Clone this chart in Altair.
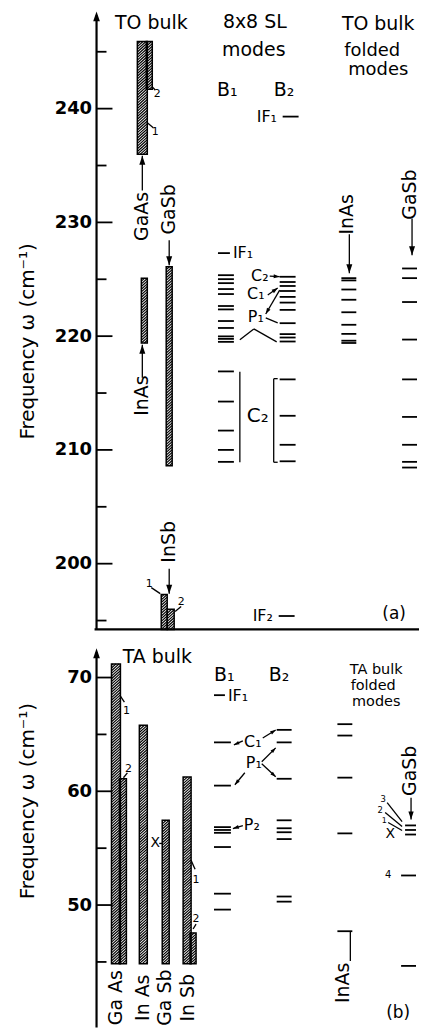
import math
import altair as alt
import pandas as pd

# ---------------- values (cm^-1) ----------------
TO_MAJOR_TICKS = [200, 210, 220, 230, 240]
TO_MINOR_TICKS = [195, 205, 215, 225, 235, 245]
TA_MAJOR_TICKS = [50, 60, 70]
TA_MINOR_TICKS = [45, 55, 65]

BULK_BARS = ["GaAs 1", "GaAs 2", "InAs", "GaSb", "InSb 1", "InSb 2"]
TO_BULK_LOW = [236.0, 241.7, 219.4, 208.6, 194.22, 194.22]
TO_BULK_HIGH = [245.9, 245.9, 225.1, 226.1, 197.3, 196.0]
TA_BULK_LOW = [44.85, 44.85, 44.85, 44.85, 44.85, 44.85]
TA_BULK_HIGH = [71.2, 61.1, 65.8, 57.45, 61.25, 47.55]

TO_SL_B1 = [225.36, 225.01, 224.66, 224.14, 223.7, 222.65, 222.35, 221.33, 220.72,
            219.98, 219.76, 219.5, 216.9, 214.25, 211.7, 210.0, 208.95]
TO_SL_B2 = [225.22, 224.76, 224.41, 223.97, 223.45, 222.95, 222.31, 221.14, 220.18,
            219.88, 219.53, 216.2, 213.0, 210.45, 209.0]
TO_IF1_B1 = [227.3]
TO_IF1_B2 = [239.3]
TO_IF2_B2 = [195.4]
TO_FOLDED_INAS = [225.1, 224.9, 224.1, 223.2, 222.1, 221.0, 220.2, 219.6, 219.4]
TO_FOLDED_GASB = [225.95, 225.1, 223.0, 219.7, 216.2, 212.9, 210.45, 208.95, 208.45]

TA_SL_B1 = [64.3, 60.5, 56.85, 56.6, 56.35, 55.1, 51.0, 49.6]
TA_SL_B2 = [65.4, 64.3, 61.1, 57.45, 56.75, 56.4, 55.8, 50.75, 50.3]
TA_IF1_B1 = [68.45]
TA_FOLDED_INAS = [65.9, 64.9, 61.2, 56.3, 47.7]
TA_FOLDED_GASB_TRIPLET = [57.0, 56.6, 56.2]
TA_FOLDED_GASB = [52.6, 44.65]

# ---------------- layout (pixels) ----------------
W = 421
AXIS_X = 97
FONT = "DejaVu Sans"
PANELS = {
    "a": {"top": 0, "height": 630, "ref_v": 240.0, "ref_px": 106.7, "k": 11.43},
    "b": {"top": 648, "height": 382, "ref_v": 70.0, "ref_px": 678.3, "k": 11.43},
}
TO_BAR_X = [(138, 148), (147, 153), (142, 148), (167, 173), (162, 168), (168, 175)]
TA_BAR_X = [(112, 121), (120, 127), (140, 148), (163, 170), (184, 192), (191, 197)]
COLS = {
    "TO_B1": (219, 235), "TO_B2": (281, 297), "TO_FINAS": (343, 358), "TO_FGASB": (404, 419),
    "TO_IF1_B1": (219, 231), "TO_IF1_B2": (284, 300), "TO_IF2": (280, 296),
    "TA_B1": (215, 232), "TA_B2": (278, 293), "TA_FINAS": (339, 354),
    "TA_FGASB": (403, 418), "TA_FGASB3": (407, 418), "TA_IF1_B1": (215, 226),
}
HATCH_STEP_PX = 2.7
ARROW_PATH = "M0,-1L0.67,1L-0.67,1Z"
TITLE = "Frequency  ω  (cm⁻¹)"


def v_of(p, Y):
    P = PANELS[p]
    return P["ref_v"] - (Y - P["ref_px"]) / P["k"]


def yscale(p):
    P = PANELS[p]
    return alt.Scale(domain=[v_of(p, P["top"] + P["height"]), v_of(p, P["top"])],
                     nice=False, zero=False)


def yaxis(p, major, title_y):
    return alt.Axis(values=major, format="d", domain=False, ticks=False, tickSize=0,
                    grid=False, labelPadding=5, labelFont=FONT, labelFontSize=18,
                    labelFontWeight="bold", labelColor="black", labelFlush=False,
                    labelOverlap=False, title=TITLE, titleFont=FONT, titleFontSize=20,
                    titleFontWeight="normal", titleColor="black",
                    titleX=28 - AXIS_X, titleY=title_y, titleAngle=270,
                    titleAlign="center", titleBaseline="middle")


XS = alt.Scale(domain=[AXIS_X, W], nice=False, zero=False)


def X(f):
    return alt.X(f, type="quantitative", scale=XS, axis=None)


def build_panel(p, bar_low, bar_high, bar_x, modes, major, minor, texts, arrows, title_y):
    P = PANELS[p]
    K = P["k"]
    AX = yaxis(p, major, title_y)

    def Y(f):
        return alt.Y(f, type="quantitative", scale=yscale(p), axis=AX)

    layers = []

    # left anchor so the whole window width is used (white, invisible)
    layers.append(alt.Chart(pd.DataFrame({"v": [v_of(p, P["top"] + 1)]}))
                  .mark_rule(color="white", strokeWidth=1)
                  .encode(x=alt.value(-AXIS_X + 0.5), y=Y("v"), y2=alt.value(2)))

    # bulk bars (white body, hatching, outline)
    bars = pd.DataFrame({"name": BULK_BARS, "lo": bar_low, "hi": bar_high,
                         "x0": [b[0] for b in bar_x], "x1": [b[1] for b in bar_x]})
    layers.append(alt.Chart(bars).mark_rect(fill="white", strokeWidth=0).encode(
        x=X("x0"), x2="x1", y=Y("lo"), y2="hi"))
    step = HATCH_STEP_PX / K
    hatch = (alt.Chart(bars)
             .transform_calculate(w="datum.x1 - datum.x0")
             .transform_calculate(rise=f"datum.w * 0.9 / {K}")
             .transform_calculate(
                 idx=f"sequence(ceil(-datum.rise / {step}), floor((datum.hi - datum.lo) / {step}) + 1)")
             .transform_flatten(["idx"])
             .transform_calculate(a=f"datum.lo + datum.idx * {step}")
             .transform_calculate(tmin="max(0, (datum.lo - datum.a) / datum.rise)",
                                  tmax="min(1, (datum.hi - datum.a) / datum.rise)")
             .transform_filter("datum.tmax > datum.tmin")
             .transform_calculate(xa="datum.x0 + datum.tmin * datum.w",
                                  xb="datum.x0 + datum.tmax * datum.w",
                                  ya="datum.a + datum.tmin * datum.rise",
                                  yb="datum.a + datum.tmax * datum.rise")
             .mark_rule(color="black", strokeWidth=1.2)
             .encode(x=X("xa"), x2="xb", y=Y("ya"), y2="yb"))
    layers.append(hatch)
    layers.append(alt.Chart(bars).mark_rect(fillOpacity=0, stroke="black", strokeWidth=1.5).encode(
        x=X("x0"), x2="x1", y=Y("lo"), y2="hi"))

    # mode lines
    rows = []
    for values, col in modes:
        x0, x1 = COLS[col]
        rows += [{"x0": x0, "x1": x1, "v": v} for v in values]
    layers.append(alt.Chart(pd.DataFrame(rows)).mark_rule(color="black", strokeWidth=1.8).encode(
        x=X("x0"), x2="x1", y=Y("v")))

    # axis line with arrow, and inward ticks
    P_bottom = v_of(p, P["top"] + P["height"])
    tip_px = P["top"] + (9 if p == "a" else 1)
    layers.append(alt.Chart(pd.DataFrame({"x0": [AXIS_X], "lo": [P_bottom], "hi": [v_of(p, tip_px + 4)]}))
                  .mark_rule(color="black", strokeWidth=2.2)
                  .encode(x=X("x0"), y=Y("lo"), y2="hi"))
    layers.append(alt.Chart(pd.DataFrame({"x0": [AXIS_X], "v": [v_of(p, tip_px + 5)]}))
                  .mark_point(shape=ARROW_PATH, filled=True, color="black", size=100, opacity=1)
                  .encode(x=X("x0"), y=Y("v")))
    tick_df = pd.DataFrame(
        [{"x0": AXIS_X, "x1": AXIS_X + 16, "v": t} for t in major] +
        [{"x0": AXIS_X, "x1": AXIS_X + 10, "v": t} for t in minor])
    layers.append(alt.Chart(tick_df).mark_rule(color="black", strokeWidth=1.8).encode(
        x=X("x0"), x2="x1", y=Y("v")))

    # annotation segments and arrowheads
    seg, heads = [], []
    for (x1, y1, x2, y2, head, hs) in arrows:
        seg.append({"xa": x1, "xb": x2, "ya": v_of(p, y1), "yb": v_of(p, y2)})
        if head:
            dx, dy = x2 - x1, y2 - y1
            L = math.hypot(dx, dy)
            ux, uy = dx / L, dy / L
            r = math.sqrt(hs) / 2
            ang = math.degrees(math.atan2(dx, -dy)) % 360
            heads.append({"x0": x2 - ux * r, "v": v_of(p, y2 - uy * r), "ang": ang, "s": hs})
    layers.append(alt.Chart(pd.DataFrame(seg)).mark_rule(color="black", strokeWidth=1.3).encode(
        x=X("xa"), x2="xb", y=Y("ya"), y2="yb"))
    if heads:
        layers.append(alt.Chart(pd.DataFrame(heads))
                      .mark_point(shape=ARROW_PATH, filled=True, color="black", opacity=1)
                      .encode(x=X("x0"), y=Y("v"),
                              angle=alt.Angle("ang:Q", scale=None),
                              size=alt.Size("s:Q", scale=None, legend=None)))

    # texts
    tdf = pd.DataFrame([{"t": t, "x0": x, "v": v_of(p, yy), "size": s, "angle": a, "align": al}
                        for (t, x, yy, s, a, al) in texts])
    for al in ["left", "center"]:
        sub = tdf[tdf["align"] == al]
        if len(sub):
            layers.append(alt.Chart(sub).mark_text(font=FONT, align=al, baseline="middle",
                                                   color="black")
                          .encode(x=X("x0"), y=Y("v"), text="t:N",
                                  size=alt.Size("size:Q", scale=None, legend=None),
                                  angle=alt.Angle("angle:Q", scale=None)))

    if p == "a":
        layers.append(alt.Chart(pd.DataFrame({"x0": [95], "x1": [W], "v": [P_bottom]}))
                      .mark_rule(color="black", strokeWidth=2.2)
                      .encode(x=X("x0"), x2="x1", y=Y("v")))

    return alt.layer(*layers).properties(width=W - AXIS_X, height=P["height"])


# ---------------- panel (a): TO ----------------
texts_a = [
    ("TO bulk", 152, 21, 19, 0, "center"),
    ("8x8  SL", 256, 20, 19, 0, "center"),
    ("modes", 255, 48, 19, 0, "center"),
    ("TO bulk", 380, 22, 19, 0, "center"),
    ("folded", 374, 49, 18, 0, "center"),
    ("modes", 380, 68, 18, 0, "center"),
    ("B₁", 218, 88, 19, 0, "left"),
    ("B₂", 275, 88, 19, 0, "left"),
    ("IF₁", 258, 115, 16, 0, "left"),
    ("IF₁", 234, 252, 16, 0, "left"),
    ("C₂", 261, 275, 16, 0, "center"),
    ("C₁", 257, 293, 16, 0, "center"),
    ("P₁", 257, 316, 16, 0, "center"),
    ("C₂", 259, 416, 20, 0, "center"),
    ("IF₂", 264, 616, 16, 0, "center"),
    ("(a)", 396, 614, 17, 0, "center"),
    ("GaAs", 143, 215, 19, 270, "center"),
    ("GaSb", 170, 208, 19, 270, "center"),
    ("InAs", 143, 395, 19, 270, "center"),
    ("InSb", 170, 542, 19, 270, "center"),
    ("InAs", 349, 213, 19, 270, "center"),
    ("GaSb", 412, 193, 19, 270, "center"),
    ("2", 158, 92, 11, 0, "center"),
    ("1", 156, 130, 11, 0, "center"),
    ("1", 150, 584, 11, 0, "center"),
    ("2", 182, 602, 11, 0, "center"),
]
arrows_a = [
    (143, 189, 143, 154, True, 81), (170, 239, 170, 264, True, 81),
    (143, 377, 143, 344, True, 81), (170, 569, 170, 594, True, 81),
    (351, 233, 351, 272, True, 81), (414, 217, 414, 254, True, 81),
    (271, 275, 281, 275.5, True, 36), (269, 294, 279, 287, True, 36),
    (281, 289, 267, 313, True, 36), (267, 317, 279, 322, False, 0),
    (241, 339, 255, 328, False, 0), (255, 328, 278, 341, False, 0),
    (241, 371, 241, 462, False, 0),
    (275, 378, 275, 462, False, 0), (275, 378, 279, 378, False, 0), (275, 462, 279, 462, False, 0),
    (153, 85, 156, 88, False, 0), (148, 121, 154, 126, False, 0),
    (152, 588, 161, 594, False, 0), (182, 607, 176, 612, False, 0),
]
modes_a = [(TO_SL_B1, "TO_B1"), (TO_SL_B2, "TO_B2"), (TO_IF1_B1, "TO_IF1_B1"),
           (TO_IF1_B2, "TO_IF1_B2"), (TO_IF2_B2, "TO_IF2"),
           (TO_FOLDED_INAS, "TO_FINAS"), (TO_FOLDED_GASB, "TO_FGASB")]
panel_a = build_panel("a", TO_BULK_LOW, TO_BULK_HIGH, TO_BAR_X, modes_a,
                      TO_MAJOR_TICKS, TO_MINOR_TICKS, texts_a, arrows_a, 340)

# ---------------- panel (b): TA ----------------
texts_b = [
    ("TA bulk", 158, 658, 19, 0, "center"),
    ("B₁", 215, 676, 19, 0, "left"),
    ("B₂", 270, 676, 19, 0, "left"),
    ("IF₁", 229, 697, 16, 0, "left"),
    ("C₁", 254, 743, 16, 0, "center"),
    ("P₁", 255, 764, 16, 0, "center"),
    ("P₂", 253, 826, 16, 0, "center"),
    ("TA bulk", 378, 671, 14.5, 0, "center"),
    ("folded", 375, 687, 14.5, 0, "center"),
    ("modes", 378, 703, 14.5, 0, "center"),
    ("X", 156, 845, 14, 0, "center"),
    ("X", 392, 836, 14, 0, "center"),
    ("3", 385, 800, 8.5, 0, "center"),
    ("2", 382, 811, 8.5, 0, "center"),
    ("1", 386, 822, 8, 0, "center"),
    ("4", 390, 877, 10, 0, "center"),
    ("GaSb", 412, 772, 19, 270, "center"),
    ("InAs", 345, 985, 19, 270, "center"),
    ("(b)", 400, 1015, 17, 0, "center"),
    ("Ga As", 117, 1000, 19, 270, "center"),
    ("In As", 144, 1000, 19, 270, "center"),
    ("Ga Sb", 166, 1000, 19, 270, "center"),
    ("In Sb", 189, 1000, 19, 270, "center"),
    ("1", 127, 712, 11, 0, "center"),
    ("2", 129, 770, 11, 0, "center"),
    ("1", 197, 882, 11, 0, "center"),
    ("2", 197, 921, 11, 0, "center"),
]
arrows_b = [
    (244, 742, 235, 746, True, 30), (264, 739, 277, 731, True, 30),
    (263, 763, 277, 749, True, 30), (263, 765, 277, 778, True, 30),
    (246, 774, 236, 786, True, 30), (244, 827, 234, 830, True, 36),
    (163, 845, 160, 845, False, 0),
    (413, 799, 413, 821, True, 64),
    (352, 963, 352, 934, False, 0),
    (389, 804, 404, 823, False, 0), (387, 814, 404, 828, False, 0), (390, 824, 404, 832, False, 0),
    (121, 697, 125, 703, False, 0), (124, 779, 128, 774, False, 0),
    (192, 862, 196, 871, False, 0), (194, 931, 197, 926, False, 0),
]
modes_b = [(TA_SL_B1, "TA_B1"), (TA_SL_B2, "TA_B2"), (TA_IF1_B1, "TA_IF1_B1"),
           (TA_FOLDED_INAS, "TA_FINAS"), (TA_FOLDED_GASB_TRIPLET, "TA_FGASB3"),
           (TA_FOLDED_GASB, "TA_FGASB")]
panel_b = build_panel("b", TA_BULK_LOW, TA_BULK_HIGH, TA_BAR_X, modes_b,
                      TA_MAJOR_TICKS, TA_MINOR_TICKS, texts_b, arrows_b, 802 - 648)

chart = (alt.vconcat(panel_a, panel_b, spacing=18, bounds="flush")
         .properties(padding=0, background="white")
         .configure_view(strokeWidth=0))

chart.save("out.html", embed_options={"renderer": "svg", "actions": False})
